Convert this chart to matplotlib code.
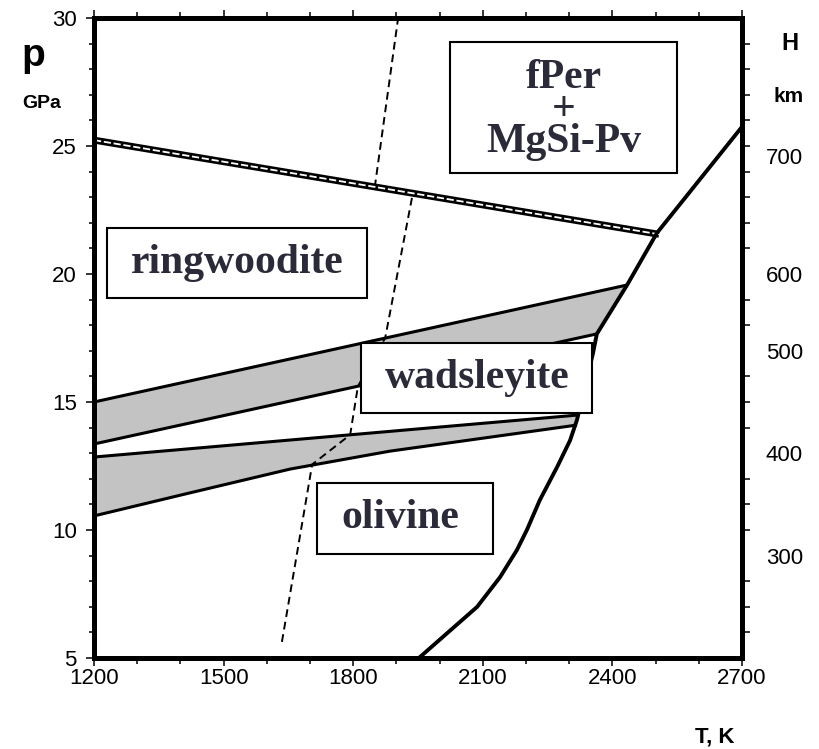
import numpy as np
import matplotlib
matplotlib.use("Agg")
import matplotlib.pyplot as plt
from matplotlib.patches import Rectangle
from matplotlib.ticker import MultipleLocator, FixedLocator

# ---------------- data ----------------
# solidus (melting curve)
T_solidus = [1952, 2087, 2140, 2179, 2202, 2232, 2272, 2302, 2318, 2355, 2364, 2434, 2503, 2700]
p_solidus = [5.0, 7.0, 8.16, 9.22, 10.0, 11.17, 12.46, 13.5, 14.3, 16.9, 17.66, 19.57, 21.6, 25.75]

# wadsleyite -> ringwoodite two-phase band
T_rw_top = [1200, 2434]
p_rw_top = [15.0, 19.57]
T_rw_bot = [1200, 2364]
p_rw_bot = [13.36, 17.66]

# olivine -> wadsleyite two-phase band
T_ow_top = [1200, 2320]
p_ow_top = [12.85, 14.49]
T_ow_bot = [1200, 1422, 1654, 1885, 2318]
p_ow_bot = [10.55, 11.45, 12.38, 13.08, 14.1]

# ringwoodite -> fPer + MgSi-Pv boundary (double line)
T_pv = [1200, 2508]
p_pv = [25.23, 21.55]

# adiabat (dashed)
T_adiabat = [1635, 1705, 1793, 1811, 1874, 1938, 1850, 1904]
p_adiabat = [5.63, 12.56, 13.72, 15.62, 17.5, 23.15, 23.4, 30.0]

# axes ticks
T_ticks = [1200, 1500, 1800, 2100, 2400, 2700]
p_ticks = [5, 10, 15, 20, 25, 30]
depth_labels = ["300", "400", "500", "600", "700"]
depth_p = [9.0, 13.0, 17.0, 20.0, 24.6]

# phase field labels: (text, box T0, T1, p0, p1, text T, text p)
fields = [
    ("ringwoodite", 1230, 1832, 19.06, 21.8, 1531, 20.04),
    ("wadsleyite", 1818, 2353, 14.57, 17.3, 2087, 15.55),
    ("olivine", 1716, 2124, 9.06, 11.84, 1908, 10.08),
]
pv_box = (2024, 2550, 23.95, 29.06)
pv_text = "fPer\n+\nMgSi-Pv"
pv_text_T = 2288
pv_text_p = 26.4

# ---------------- figure ----------------
W, H = 819, 749
fig = plt.figure(figsize=(W / 100, H / 100), dpi=100)
L, R, B, Tp = 94, 742, 658, 18
ax = fig.add_axes([L / W, 1 - B / H, (R - L) / W, (B - Tp) / H])
ax.set_xlim(1200, 2700)
ax.set_ylim(5, 30)

sans = ["Liberation Sans", "DejaVu Sans"]
serif = ["Liberation Serif", "DejaVu Serif"]
txtcol = "#2a2a38"
gray = "#c3c3c3"

# bands
poly1_T = np.concatenate([T_rw_top, T_rw_bot[::-1]])
poly1_p = np.concatenate([p_rw_top, p_rw_bot[::-1]])
ax.fill(poly1_T, poly1_p, color=gray, lw=0, zorder=1)
poly2_T = np.concatenate([T_ow_top, T_ow_bot[::-1]])
poly2_p = np.concatenate([p_ow_top, p_ow_bot[::-1]])
ax.fill(poly2_T, poly2_p, color=gray, lw=0, zorder=1)
for Tl, pl in [(T_rw_top, p_rw_top), (T_rw_bot, p_rw_bot), (T_ow_top, p_ow_top), (T_ow_bot, p_ow_bot)]:
    ax.plot(Tl, pl, color="black", lw=2.2, solid_capstyle="butt", zorder=2)

# adiabat
ax.plot(T_adiabat, p_adiabat, color="black", lw=1.4, linestyle=(0, (4, 2.5)), zorder=2.5)

# pv boundary double line
ax.plot(T_pv, p_pv, color="black", lw=5.0, solid_capstyle="butt", zorder=3)
ax.plot(T_pv, p_pv, color="white", lw=1.3, linestyle=(0, (4, 1.5)), zorder=3.1)

# solidus
ax.plot(T_solidus, p_solidus, color="black", lw=2.8, zorder=3.2)

# boxes and labels
for name, t0, t1, p0, p1, tx, ty in fields:
    ax.add_patch(Rectangle((t0, p0), t1 - t0, p1 - p0, facecolor="white",
                           edgecolor="black", lw=1.5, zorder=5))
    ax.text(tx, ty, name, ha="center", va="baseline", fontsize=30, fontweight="bold",
            family=serif, color=txtcol, zorder=6)
t0, t1, p0, p1 = pv_box
ax.add_patch(Rectangle((t0, p0), t1 - t0, p1 - p0, facecolor="white",
                       edgecolor="black", lw=1.5, zorder=5))
ax.text(pv_text_T, pv_text_p, pv_text, ha="center", va="center", multialignment="center",
        linespacing=0.8, fontsize=30, fontweight="bold", family=serif, color=txtcol, zorder=6)

# spines
for sp in ax.spines.values():
    sp.set_linewidth(3.6)
    sp.set_zorder(10)

# x ticks
ax.xaxis.set_major_locator(FixedLocator(T_ticks))
ax.xaxis.set_minor_locator(MultipleLocator(100))
ax.tick_params(axis="x", which="major", direction="out", length=5.5, width=1.1,
               pad=2, labelsize=16, top=True, bottom=True)
ax.tick_params(axis="x", which="minor", direction="out", length=4.5, width=1.1,
               top=True, bottom=True)
# y ticks (left)
ax.yaxis.set_major_locator(FixedLocator(p_ticks))
ax.yaxis.set_minor_locator(MultipleLocator(1))
ax.tick_params(axis="y", which="major", direction="out", length=5.5, width=1.1,
               pad=7, labelsize=16, right=False)
ax.tick_params(axis="y", which="minor", direction="out", length=3.8, width=1.1, right=False)
for lab in ax.get_xticklabels() + ax.get_yticklabels():
    lab.set_family(sans)

# right depth axis
ax2 = ax.twinx()
ax2.set_ylim(5, 30)
for sp in ax2.spines.values():
    sp.set_visible(False)
ax2.yaxis.set_major_locator(FixedLocator(depth_p))
ax2.set_yticklabels(depth_labels)
ax2.yaxis.set_minor_locator(FixedLocator(list(range(6, 30))))
ax2.tick_params(axis="y", which="major", length=0, pad=17, labelsize=16)
ax2.tick_params(axis="y", which="minor", direction="out", length=6, width=1.1)
for lab in ax2.get_yticklabels():
    lab.set_family(sans)

# axis titles
fig.text(33 / W, 1 - 56 / H, "p", ha="center", va="center", fontsize=28,
         fontweight="bold", family=sans)
fig.text(42 / W, 1 - 103 / H, "GPa", ha="center", va="center", fontsize=14,
         fontweight="bold", family=sans)
fig.text(790 / W, 1 - 43 / H, "H", ha="center", va="center", fontsize=17,
         fontweight="bold", family=sans)
fig.text(789 / W, 1 - 96 / H, "km", ha="center", va="center", fontsize=15,
         fontweight="bold", family=sans)
fig.text(715 / W, 1 - 737 / H, "T, K", ha="center", va="center", fontsize=16,
         fontweight="bold", family=sans)

fig.savefig("out.png", dpi=100, facecolor="white")
